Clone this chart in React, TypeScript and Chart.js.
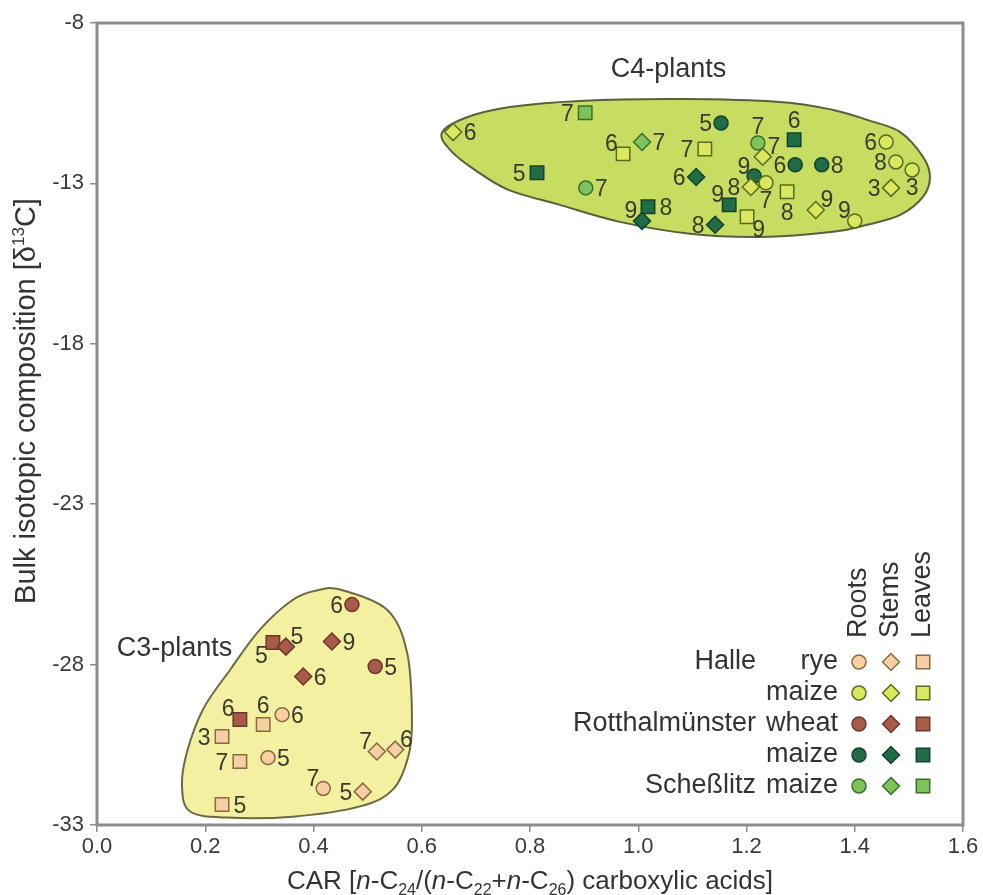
import React, { useEffect, useRef } from 'react';
import { Chart, registerables } from 'chart.js';

Chart.register(...registerables);

const FONT = '"Liberation Sans", Arial, Helvetica, sans-serif';

// Axis ranges / ticks
const xMin = 0;
const xMax = 1.6;
const xStep = 0.2;
const yMin = -33;
const yMax = -8;
const yStep = 5;

// [CAR, bulk δ13C, sample label]
const halleRyeRoots = [[0.342, -29.56, '6'], [0.316, -30.9, '5'], [0.418, -31.86, '7']];
const halleRyeRootsPos = ['r', 'r', 'tl'];
const halleRyeStems = [[0.517, -30.71, '7'], [0.551, -30.65, '6'], [0.491, -31.96, '5']];
const halleRyeStemsPos = ['tl', 'tr', 'l'];
const halleRyeLeaves = [[0.307, -29.87, '6'], [0.231, -30.24, '3'], [0.264, -31.02, '7'], [0.231, -32.36, '5']];
const halleRyeLeavesPos = ['t', 'l', 'l', 'r'];

const halleMaizeRoots = [[1.458, -11.71, '6'], [1.476, -12.33, '8'], [1.506, -12.58, '3'], [1.236, -12.98, '7'], [1.4, -14.17, '9']];
const halleMaizeRootsPos = ['l', 'l', 'b', 'b', 'tl'];
const halleMaizeStems = [[0.658, -11.4, '6'], [1.23, -12.17, '7'], [1.208, -13.11, '8'], [1.328, -13.83, '9'], [1.467, -13.14, '3']];
const halleMaizeStemsPos = ['r', 'tr', 'l', 'tr', 'l'];
const halleMaizeLeaves = [[0.972, -12.08, '6'], [1.123, -11.93, '7'], [1.275, -13.26, '8'], [1.201, -14.04, '9']];
const halleMaizeLeavesPos = ['tl', 'l', 'b', 'br'];

const rottWheatRoots = [[0.471, -26.13, '6'], [0.514, -28.06, '5']];
const rottWheatRootsPos = ['l', 'r'];
const rottWheatStems = [[0.349, -27.44, '5'], [0.434, -27.28, '9'], [0.381, -28.37, '6']];
const rottWheatStemsPos = ['tr', 'r', 'r'];
const rottWheatLeaves = [[0.325, -27.31, '5'], [0.264, -29.71, '6']];
const rottWheatLeavesPos = ['bl', 'tl'];

const rottMaizeRoots = [[1.153, -11.12, '5'], [1.214, -12.77, '9'], [1.29, -12.42, '6'], [1.339, -12.42, '8']];
const rottMaizeRootsPos = ['l', 'tl', 'l', 'r'];
const rottMaizeStems = [[1.107, -12.8, '6'], [1.142, -14.29, '8'], [1.007, -14.17, '9']];
const rottMaizeStemsPos = ['l', 'l', 'tl'];
const rottMaizeLeaves = [[0.813, -12.67, '5'], [1.018, -13.73, '8'], [1.168, -13.67, '9'], [1.288, -11.64, '6']];
const rottMaizeLeavesPos = ['l', 'r', 'tl', 't'];

const schMaizeRoots = [[0.903, -13.14, '7'], [1.221, -11.74, '7']];
const schMaizeRootsPos = ['r', 't'];
const schMaizeStems = [[1.007, -11.71, '7']];
const schMaizeStemsPos = ['r'];
const schMaizeLeaves = [[0.902, -10.8, '7']];
const schMaizeLeavesPos = ['l'];

// Outline of the C4 and C3 fields (data units)
const c4Outline = [
  [0.637, -11.43], [0.68, -10.96], [0.763, -10.62], [0.892, -10.43], [1.077, -10.37], [1.262, -10.46],
  [1.36, -10.71], [1.423, -11.02], [1.484, -11.4], [1.526, -12.17], [1.539, -12.8], [1.526, -13.42],
  [1.484, -13.98], [1.423, -14.29], [1.36, -14.51], [1.225, -14.67], [1.096, -14.57], [0.966, -14.2],
  [0.855, -13.67], [0.76, -13.2], [0.7, -12.6], [0.655, -12.0],
];
const c3Outline = [
  [0.449, -25.66], [0.536, -26.29], [0.573, -27.63], [0.582, -29.71], [0.575, -30.87], [0.547, -31.89],
  [0.486, -32.42], [0.362, -32.74], [0.24, -32.77], [0.172, -32.58], [0.157, -31.8], [0.166, -30.74],
  [0.196, -29.39], [0.246, -28.16], [0.301, -26.91], [0.362, -25.98], [0.406, -25.69],
];

const regionLabels = ['C4-plants', 'C3-plants'];

const legendSites = ['Halle', '', 'Rotthalmünster', '', 'Scheßlitz'];
const legendCrops = ['rye', 'maize', 'wheat', 'maize', 'maize'];
const organNames = ['Roots', 'Stems', 'Leaves'];

const xTitleParts: [string, string][] = [
  ['CAR [', 'n'], ['n', 'i'], ['-C', 'n'], ['24', 'sub'], ['/(', 'n'], ['n', 'i'], ['-C', 'n'], ['22', 'sub'],
  ['+', 'n'], ['n', 'i'], ['-C', 'n'], ['26', 'sub'], [') carboxylic acids]', 'n'],
];
const yTitleParts: [string, string][] = [['Bulk isotopic composition [δ', 'n'], ['13', 'sup'], ['C]', 'n']];

// Styles
const groupStyles = [
  { fill: '#f6cfa3', stroke: '#8a6a40' },
  { fill: '#d9e85e', stroke: '#5b6a1e' },
  { fill: '#a85b48', stroke: '#6a3828' },
  { fill: '#1f6c47', stroke: '#15412c' },
  { fill: '#7cc35c', stroke: '#3e6d2c' },
];
const organShapes = ['circle', 'rectRot', 'rect'];
const organRadius = [7, 8.5, 9.5];

const seriesData = [
  [[halleRyeRoots, halleRyeRootsPos], [halleRyeStems, halleRyeStemsPos], [halleRyeLeaves, halleRyeLeavesPos]],
  [[halleMaizeRoots, halleMaizeRootsPos], [halleMaizeStems, halleMaizeStemsPos], [halleMaizeLeaves, halleMaizeLeavesPos]],
  [[rottWheatRoots, rottWheatRootsPos], [rottWheatStems, rottWheatStemsPos], [rottWheatLeaves, rottWheatLeavesPos]],
  [[rottMaizeRoots, rottMaizeRootsPos], [rottMaizeStems, rottMaizeStemsPos], [rottMaizeLeaves, rottMaizeLeavesPos]],
  [[schMaizeRoots, schMaizeRootsPos], [schMaizeStems, schMaizeStemsPos], [schMaizeLeaves, schMaizeLeavesPos]],
];

const AXIS_COLOR = '#8c8c8c';
const TEXT_COLOR = '#333333';

function drawMarker(ctx: CanvasRenderingContext2D, shape: string, x: number, y: number, r: number, fill: string, stroke: string) {
  ctx.save();
  ctx.beginPath();
  if (shape === 'circle') {
    ctx.arc(x, y, r, 0, Math.PI * 2);
  } else if (shape === 'rectRot') {
    ctx.moveTo(x - r, y);
    ctx.lineTo(x, y - r);
    ctx.lineTo(x + r, y);
    ctx.lineTo(x, y + r);
    ctx.closePath();
  } else {
    const s = r * Math.SQRT1_2;
    ctx.rect(x - s, y - s, 2 * s, 2 * s);
  }
  ctx.fillStyle = fill;
  ctx.fill();
  ctx.lineWidth = 1.5;
  ctx.strokeStyle = stroke;
  ctx.stroke();
  ctx.restore();
}

function smoothClosed(ctx: CanvasRenderingContext2D, pts: number[][]) {
  const n = pts.length;
  ctx.beginPath();
  ctx.moveTo(pts[0][0], pts[0][1]);
  for (let i = 0; i < n; i++) {
    const p0 = pts[(i - 1 + n) % n];
    const p1 = pts[i];
    const p2 = pts[(i + 1) % n];
    const p3 = pts[(i + 2) % n];
    const c1x = p1[0] + (p2[0] - p0[0]) / 6;
    const c1y = p1[1] + (p2[1] - p0[1]) / 6;
    const c2x = p2[0] - (p3[0] - p1[0]) / 6;
    const c2y = p2[1] - (p3[1] - p1[1]) / 6;
    ctx.bezierCurveTo(c1x, c1y, c2x, c2y, p2[0], p2[1]);
  }
  ctx.closePath();
}

function partFont(kind: string, size: number) {
  if (kind === 'sub' || kind === 'sup') return `${Math.round(size * 0.6)}px ${FONT}`;
  if (kind === 'i') return `italic ${size}px ${FONT}`;
  return `${size}px ${FONT}`;
}

function drawRich(ctx: CanvasRenderingContext2D, parts: [string, string][], cx: number, baseY: number, size: number) {
  let total = 0;
  const widths = parts.map(([t, k]) => {
    ctx.font = partFont(k, size);
    const w = ctx.measureText(t).width;
    total += w;
    return w;
  });
  let x = cx - total / 2;
  ctx.textAlign = 'left';
  ctx.textBaseline = 'alphabetic';
  parts.forEach(([t, k], i) => {
    ctx.font = partFont(k, size);
    let dy = 0;
    if (k === 'sub') dy = size * 0.22;
    if (k === 'sup') dy = -size * 0.38;
    ctx.fillText(t, x, baseY + dy);
    x += widths[i];
  });
}

const regionsPlugin = {
  id: 'regions',
  beforeDatasetsDraw(chart: any) {
    const { ctx, scales } = chart;
    const xs = scales.x;
    const ys = scales.y;
    const map = (o: number[][]) => o.map((p) => [xs.getPixelForValue(p[0]), ys.getPixelForValue(p[1])]);
    ctx.save();
    smoothClosed(ctx, map(c4Outline));
    ctx.fillStyle = '#c7dd62';
    ctx.fill();
    ctx.lineWidth = 2;
    ctx.strokeStyle = '#56603a';
    ctx.stroke();
    smoothClosed(ctx, map(c3Outline));
    ctx.fillStyle = '#f4f0a2';
    ctx.fill();
    ctx.lineWidth = 2;
    ctx.strokeStyle = '#6c6a40';
    ctx.stroke();

    ctx.fillStyle = TEXT_COLOR;
    ctx.font = `27px ${FONT}`;
    ctx.textBaseline = 'middle';
    ctx.textAlign = 'center';
    ctx.fillText(regionLabels[0], xs.getPixelForValue(1.056), ys.getPixelForValue(-9.45));
    ctx.textAlign = 'right';
    ctx.fillText(regionLabels[1], xs.getPixelForValue(0.25), ys.getPixelForValue(-27.5));
    ctx.restore();
  },
};

const frameAndTextPlugin = {
  id: 'frameText',
  afterDatasetsDraw(chart: any) {
    const { ctx, chartArea: a } = chart;
    ctx.save();
    // sample labels
    ctx.fillStyle = '#3b3b2c';
    const fs = 23;
    ctx.font = `${fs}px ${FONT}`;
    chart.data.datasets.forEach((ds: any, di: number) => {
      const meta = chart.getDatasetMeta(di);
      const r = ds.pointRadius;
      meta.data.forEach((el: any, i: number) => {
        const pos = ds.labelPos[i];
        const t = ds.sampleLabels[i];
        let x = el.x;
        let y = el.y;
        const half = fs * 0.36;
        let align: CanvasTextAlign = 'center';
        if (pos === 'l') { x -= r + 2; y += half; align = 'right'; }
        else if (pos === 'r') { x += r + 2; y += half; align = 'left'; }
        else if (pos === 't') { y -= r + 2; }
        else if (pos === 'b') { y += r + 2 + fs * 0.72; }
        else if (pos === 'tl') { x -= r * 0.55; y -= r * 0.35; align = 'right'; }
        else if (pos === 'tr') { x += r * 0.55; y -= r * 0.35; align = 'left'; }
        else if (pos === 'bl') { x -= r * 0.55; y += r * 0.4 + fs * 0.72; align = 'right'; }
        else if (pos === 'br') { x += r * 0.55; y += r * 0.4 + fs * 0.72; align = 'left'; }
        ctx.textAlign = align;
        ctx.textBaseline = 'alphabetic';
        ctx.fillText(t, x, y);
      });
    });

    // frame
    ctx.strokeStyle = AXIS_COLOR;
    ctx.lineWidth = 3;
    ctx.strokeRect(a.left, a.top, a.right - a.left, a.bottom - a.top);

    // axis titles
    ctx.fillStyle = TEXT_COLOR;
    drawRich(ctx, xTitleParts, (a.left + a.right) / 2, 889, 26);
    ctx.save();
    ctx.translate(35, 401);
    ctx.rotate(-Math.PI / 2);
    ctx.fillStyle = TEXT_COLOR;
    drawRich(ctx, yTitleParts, 0, 0, 29);
    ctx.restore();

    // legend
    const rowY = [662, 693, 724, 755, 786];
    const colX = [859, 891, 923];
    legendCrops.forEach((crop, i) => {
      const y = rowY[i];
      ctx.font = `27px ${FONT}`;
      ctx.textBaseline = 'middle';
      ctx.textAlign = 'right';
      ctx.fillStyle = TEXT_COLOR;
      if (legendSites[i]) ctx.fillText(legendSites[i], 756, y);
      ctx.fillText(crop, 838, y);
      organShapes.forEach((shape, j) => {
        drawMarker(ctx, shape, colX[j], y, organRadius[j], groupStyles[i].fill, groupStyles[i].stroke);
      });
    });
    organNames.forEach((name, j) => {
      ctx.save();
      ctx.translate(colX[j], 638);
      ctx.rotate(-Math.PI / 2);
      ctx.textAlign = 'left';
      ctx.textBaseline = 'middle';
      ctx.fillStyle = TEXT_COLOR;
      ctx.font = `27px ${FONT}`;
      ctx.fillText(name, 0, 0);
      ctx.restore();
    });
    ctx.restore();
  },
};

function buildDatasets() {
  const out: any[] = [];
  seriesData.forEach((organs, gi) => {
    organs.forEach(([pts, pos], oi) => {
      const p = pts as any[];
      out.push({
        label: `${gi}-${oi}`,
        data: p.map((d) => ({ x: d[0], y: d[1] })),
        sampleLabels: p.map((d) => d[2]),
        labelPos: pos,
        pointStyle: organShapes[oi],
        pointRadius: organRadius[oi],
        pointHoverRadius: organRadius[oi],
        backgroundColor: groupStyles[gi].fill,
        borderColor: groupStyles[gi].stroke,
        borderWidth: 1.5,
        showLine: false,
      });
    });
  });
  return out;
}

export default function App() {
  const ref = useRef<HTMLCanvasElement>(null);
  useEffect(() => {
    const canvas = ref.current;
    if (!canvas) return;
    const tickFont = { family: FONT, size: 22 };
    const chart = new Chart(canvas, {
      type: 'scatter',
      data: { datasets: buildDatasets() },
      options: {
        responsive: false,
        animation: false,
        devicePixelRatio: 1,
        layout: { padding: { top: 23, right: 20, bottom: 0, left: 0 } },
        plugins: { legend: { display: false }, tooltip: { enabled: false } },
        scales: {
          x: {
            type: 'linear',
            min: xMin,
            max: xMax,
            afterFit: (s: any) => { s.height = 70; },
            ticks: {
              stepSize: xStep,
              autoSkip: false,
              maxRotation: 0,
              padding: 2,
              color: '#3a3a3a',
              font: tickFont,
              callback: (v: any) => Number(v).toFixed(1),
            },
            grid: { display: true, drawOnChartArea: false, drawTicks: true, tickLength: 7, color: AXIS_COLOR, lineWidth: 1.5 },
            border: { display: false },
          },
          y: {
            type: 'linear',
            min: yMin,
            max: yMax,
            afterFit: (s: any) => { s.width = 97; },
            ticks: {
              stepSize: yStep,
              autoSkip: false,
              padding: 6,
              color: '#3a3a3a',
              font: tickFont,
              callback: (v: any) => String(v),
            },
            grid: { display: true, drawOnChartArea: false, drawTicks: true, tickLength: 7, color: AXIS_COLOR, lineWidth: 1.5 },
            border: { display: false },
          },
        },
      } as any,
      plugins: [regionsPlugin, frameAndTextPlugin],
    });
    return () => chart.destroy();
  }, []);
  return (
    <div style={{ position: 'absolute', left: 0, top: 0, width: 983, height: 895, background: '#ffffff' }}>
      <canvas ref={ref} width={983} height={895} style={{ display: 'block', width: 983, height: 895 }} />
    </div>
  );
}
